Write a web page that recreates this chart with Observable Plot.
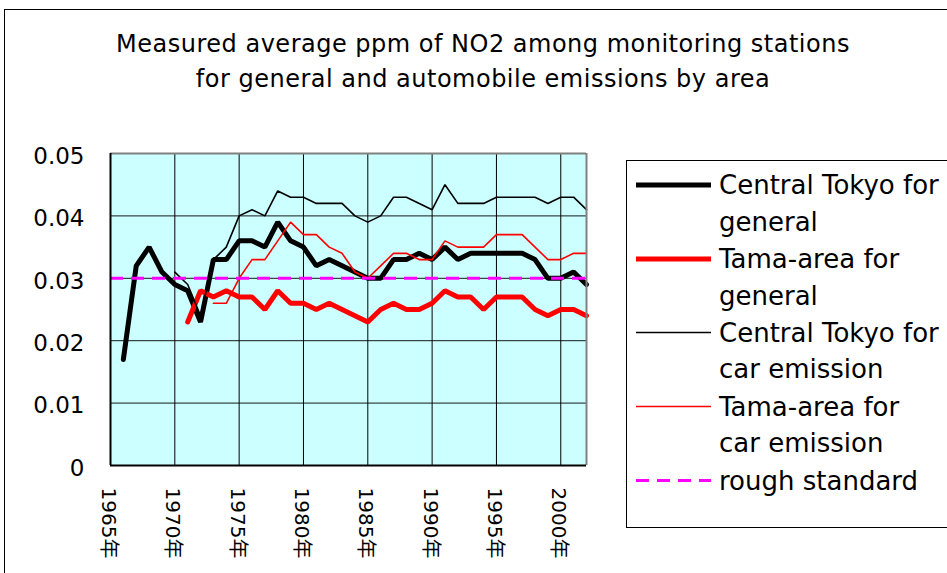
<!DOCTYPE html>
<html>
<head>
<meta charset="utf-8">
<script src="https://cdn.jsdelivr.net/npm/d3@7"></script>
<script src="https://cdn.jsdelivr.net/npm/@observablehq/plot@0.6"></script>
<style>
  html, body { margin: 0; padding: 0; background: #fff; }
  body { width: 947px; height: 573px; position: relative; overflow: hidden; font-family: "DejaVu Sans", "Noto Sans CJK JP", sans-serif; color: #000; }
  #outer { position: absolute; left: 4px; top: 9px; width: 1200px; height: 1000px; border: 1px solid #000; box-sizing: border-box; }
  #title { position: absolute; left: 0; width: 966px; top: 27px; text-align: center; font-size: 24px; letter-spacing: 0.5px; line-height: 35px; }
  #chart { position: absolute; left: 0; top: 0; }
  #legend { position: absolute; left: 626px; top: 160px; width: 340px; height: 368px; border: 1px solid #000; box-sizing: border-box; background: #fff; }
  #legend svg { position: absolute; left: 0; top: 0; }
</style>
</head>
<body>
<div id="outer"></div>
<div id="chart"></div>
<div id="title">Measured average ppm of NO2 among monitoring stations<br>for general and automobile emissions by area</div>
<div id="legend"></div>
<script>
// ---- data ----
const years = d3.range(1965, 2003);
const centralGeneral = [null, 0.017, 0.032, 0.035, 0.031, 0.029, 0.028, 0.023, 0.033, 0.033,
  0.036, 0.036, 0.035, 0.039, 0.036, 0.035, 0.032, 0.033, 0.032, 0.031,
  0.030, 0.030, 0.033, 0.033, 0.034, 0.033, 0.035, 0.033, 0.034, 0.034,
  0.034, 0.034, 0.034, 0.033, 0.030, 0.030, 0.031, 0.029];
const tamaGeneral = [null, null, null, null, null, null, 0.023, 0.028, 0.027, 0.028,
  0.027, 0.027, 0.025, 0.028, 0.026, 0.026, 0.025, 0.026, 0.025, 0.024,
  0.023, 0.025, 0.026, 0.025, 0.025, 0.026, 0.028, 0.027, 0.027, 0.025,
  0.027, 0.027, 0.027, 0.025, 0.024, 0.025, 0.025, 0.024];
const centralCar = [null, null, null, null, null, 0.031, 0.029, 0.024, 0.033, 0.035,
  0.040, 0.041, 0.040, 0.044, 0.043, 0.043, 0.042, 0.042, 0.042, 0.040,
  0.039, 0.040, 0.043, 0.043, 0.042, 0.041, 0.045, 0.042, 0.042, 0.042,
  0.043, 0.043, 0.043, 0.043, 0.042, 0.043, 0.043, 0.041];
const tamaCar = [null, null, null, null, null, null, null, null, 0.026, 0.026,
  0.030, 0.033, 0.033, 0.036, 0.039, 0.037, 0.037, 0.035, 0.034, 0.031,
  0.030, 0.032, 0.034, 0.034, 0.033, 0.033, 0.036, 0.035, 0.035, 0.035,
  0.037, 0.037, 0.037, 0.035, 0.033, 0.033, 0.034, 0.034];
const standard = 0.03;
const xTickYears = [1965, 1970, 1975, 1980, 1985, 1990, 1995, 2000];
const xGridYears = [1970, 1975, 1980, 1985, 1990, 1995, 2000];
const yTicks = [0, 0.01, 0.02, 0.03, 0.04, 0.05];
const yGrid = [0.01, 0.02, 0.03, 0.04];
const seriesNames = ["Central Tokyo for general", "Tama-area for general", "Central Tokyo for car emission", "Tama-area for car emission", "rough standard"];

const toRows = arr => years.map((year, i) => ({year, value: arr[i]})).filter(d => d.value != null);

const font = "DejaVu Sans, 'Noto Sans CJK JP', sans-serif";

const chart = Plot.plot({
  width: 947,
  height: 573,
  marginLeft: 110,
  marginRight: 361,
  marginTop: 153,
  marginBottom: 108,
  style: {fontFamily: font, background: "transparent", color: "#000", overflow: "visible"},
  x: {domain: [1965, 2002], label: null},
  y: {domain: [0, 0.05], label: null},
  marks: [
    Plot.frame({fill: "#CCFFFF", stroke: null}),
    Plot.gridX(xGridYears, {stroke: "#000", strokeOpacity: 1, strokeWidth: 1}),
    Plot.gridY(yGrid, {stroke: "#000", strokeOpacity: 0.9, strokeWidth: 1}),
    Plot.axisY(yTicks, {tickSize: 0, tickPadding: 26, fontSize: 23, dy: 3,
      tickFormat: d => d === 0 ? "0" : d.toFixed(2), fill: "#000"}),
    Plot.axisX(xTickYears, {tickSize: 0, tickPadding: 22, fontSize: 20, tickRotate: 90, dx: -2,
      tickFormat: d => d + "年", fill: "#000"}),
    Plot.line(toRows(centralGeneral), {x: "year", y: "value", stroke: "#000", strokeWidth: 5, strokeLinejoin: "miter"}),
    Plot.line(toRows(tamaGeneral), {x: "year", y: "value", stroke: "#FF0000", strokeWidth: 5, strokeLinejoin: "miter"}),
    Plot.line(toRows(centralCar), {x: "year", y: "value", stroke: "#000", strokeWidth: 1.6, strokeLinejoin: "miter"}),
    Plot.line(toRows(tamaCar), {x: "year", y: "value", stroke: "#FF0000", strokeWidth: 1.6, strokeLinejoin: "miter"}),
    Plot.ruleY([standard], {stroke: "#FF00FF", strokeWidth: 3, strokeDasharray: "13,8"}),
    Plot.ruleY([0.05], {stroke: "#808080", strokeWidth: 2}),
    Plot.ruleX([2002], {stroke: "#808080", strokeWidth: 2}),
    Plot.ruleX([1965], {stroke: "#000", strokeWidth: 2}),
    Plot.ruleY([0], {stroke: "#000", strokeWidth: 2})
  ]
});
document.getElementById("chart").appendChild(chart);

// ---- legend ----
const legendItems = [
  {lines: ["Central Tokyo for", "general"], stroke: "#000", width: 5, dash: null},
  {lines: ["Tama-area for", "general"], stroke: "#FF0000", width: 5, dash: null},
  {lines: ["Central Tokyo for", "car emission"], stroke: "#000", width: 1.6, dash: null},
  {lines: ["Tama-area for", "car emission"], stroke: "#FF0000", width: 1.6, dash: null},
  {lines: ["rough standard"], stroke: "#FF00FF", width: 3, dash: "13,8"}
];
const ns = "http://www.w3.org/2000/svg";
const lsvg = document.createElementNS(ns, "svg");
lsvg.setAttribute("width", 340);
lsvg.setAttribute("height", 368);
const rowY = [24, 98, 171.5, 245.5, 319.5];
legendItems.forEach((it, i) => {
  const y = rowY[i];
  const ln = document.createElementNS(ns, "line");
  ln.setAttribute("x1", 9); ln.setAttribute("x2", 84);
  ln.setAttribute("y1", y); ln.setAttribute("y2", y);
  ln.setAttribute("stroke", it.stroke);
  ln.setAttribute("stroke-width", it.width);
  if (it.dash) ln.setAttribute("stroke-dasharray", it.dash);
  lsvg.appendChild(ln);
  it.lines.forEach((t, j) => {
    const tx = document.createElementNS(ns, "text");
    tx.setAttribute("x", 92);
    tx.setAttribute("y", y + j * 36.5);
    tx.setAttribute("dy", "0.36em");
    tx.setAttribute("font-size", 26);
    tx.setAttribute("font-family", font);
    tx.setAttribute("fill", "#000");
    tx.textContent = t;
    lsvg.appendChild(tx);
  });
});
document.getElementById("legend").appendChild(lsvg);
</script>
</body>
</html>
